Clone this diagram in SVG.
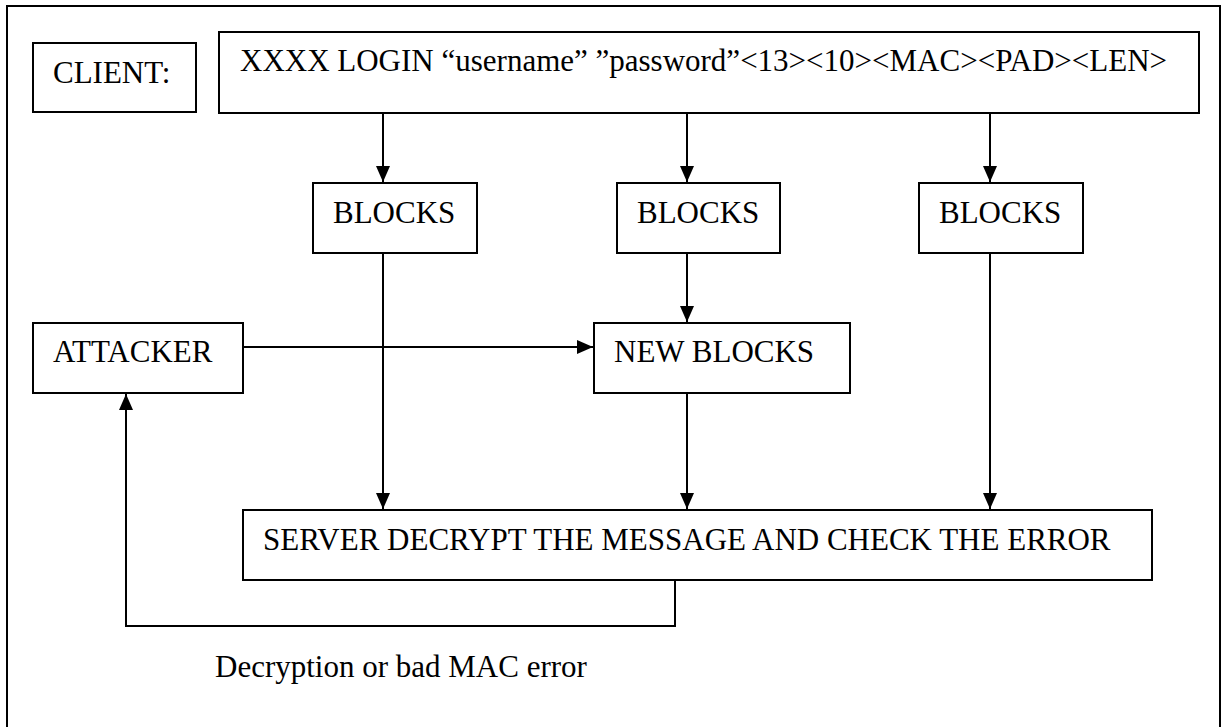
<svg xmlns="http://www.w3.org/2000/svg" width="1223" height="727" viewBox="0 0 1223 727">
  <style>
    .box { fill: #fff; stroke: #000; stroke-width: 2; }
    .lbl { font-family: "Liberation Serif", "Times New Roman", serif; font-size: 31px; fill: #000; }
    .wire { fill: none; stroke: #000; stroke-width: 2; }
  </style>
  <defs>
    <marker id="arrow" markerUnits="userSpaceOnUse" markerWidth="16" markerHeight="16" refX="16" refY="7" orient="auto" viewBox="0 0 16 14">
      <path d="M0,0 L16,7 L0,14 Z" fill="#000"/>
    </marker>
  </defs>

  <!-- outer frame -->
  <rect x="7" y="6" width="1213" height="760" fill="#fff" stroke="#000" stroke-width="2"/>

  <!-- connectors -->
  <g id="connectors">
    <line class="wire" x1="383" y1="113" x2="383" y2="182" marker-end="url(#arrow)"/>
    <line class="wire" x1="687" y1="113" x2="687" y2="182" marker-end="url(#arrow)"/>
    <line class="wire" x1="990" y1="113" x2="990" y2="182" marker-end="url(#arrow)"/>
    <line class="wire" x1="383" y1="253" x2="383" y2="509" marker-end="url(#arrow)"/>
    <line class="wire" x1="687" y1="253" x2="687" y2="322" marker-end="url(#arrow)"/>
    <line class="wire" x1="990" y1="253" x2="990" y2="509" marker-end="url(#arrow)"/>
    <line class="wire" x1="687" y1="393" x2="687" y2="509" marker-end="url(#arrow)"/>
    <line class="wire" x1="243" y1="347" x2="593" y2="347" marker-end="url(#arrow)"/>
    <polyline class="wire" points="675,580 675,626 126,626 126,394" marker-end="url(#arrow)"/>
  </g>

  <g id="client">
    <rect class="box" x="33" y="43" width="163" height="69"/>
    <text class="lbl" x="53" y="83">CLIENT:</text>
  </g>

  <g id="message">
    <rect class="box" x="219" y="32" width="980" height="81"/>
    <text class="lbl" x="240" y="71">XXXX LOGIN “username” ”password”&lt;13&gt;&lt;10&gt;&lt;MAC&gt;&lt;PAD&gt;&lt;LEN&gt;</text>
  </g>

  <g id="blocks1">
    <rect class="box" x="313" y="183" width="164" height="70"/>
    <text class="lbl" x="333" y="223">BLOCKS</text>
  </g>

  <g id="blocks2">
    <rect class="box" x="617" y="183" width="163" height="70"/>
    <text class="lbl" x="637" y="223">BLOCKS</text>
  </g>

  <g id="blocks3">
    <rect class="box" x="919" y="183" width="164" height="70"/>
    <text class="lbl" x="939" y="223">BLOCKS</text>
  </g>

  <g id="attacker">
    <rect class="box" x="33" y="323" width="210" height="70"/>
    <text class="lbl" x="53" y="362">ATTACKER</text>
  </g>

  <g id="new-blocks">
    <rect class="box" x="594" y="323" width="256" height="70"/>
    <text class="lbl" x="614" y="362">NEW BLOCKS</text>
  </g>

  <g id="server">
    <rect class="box" x="243" y="510" width="909" height="70"/>
    <text class="lbl" x="263" y="550">SERVER DECRYPT THE MESSAGE AND CHECK THE ERROR</text>
  </g>

  <g id="error-note">
    <text class="lbl" x="215" y="677">Decryption or bad MAC error</text>
  </g>
</svg>
